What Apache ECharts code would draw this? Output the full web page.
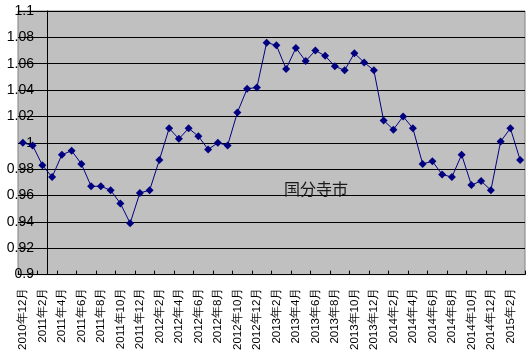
<!DOCTYPE html>
<html>
<head>
<meta charset="utf-8">
<script src="https://cdn.jsdelivr.net/npm/echarts@6/dist/echarts.min.js"></script>
<style>
  html, body { margin: 0; padding: 0; background: #fff; }
  #chart { width: 532px; height: 353px; }
</style>
</head>
<body>
<div id="chart"></div>
<script>
// 月次データ 2010年12月〜2015年3月
const months = [
  '2010年12月', '2011年1月', '2011年2月', '2011年3月', '2011年4月', '2011年5月',
  '2011年6月', '2011年7月', '2011年8月', '2011年9月', '2011年10月', '2011年11月',
  '2011年12月', '2012年1月', '2012年2月', '2012年3月', '2012年4月', '2012年5月',
  '2012年6月', '2012年7月', '2012年8月', '2012年9月', '2012年10月', '2012年11月',
  '2012年12月', '2013年1月', '2013年2月', '2013年3月', '2013年4月', '2013年5月',
  '2013年6月', '2013年7月', '2013年8月', '2013年9月', '2013年10月', '2013年11月',
  '2013年12月', '2014年1月', '2014年2月', '2014年3月', '2014年4月', '2014年5月',
  '2014年6月', '2014年7月', '2014年8月', '2014年9月', '2014年10月', '2014年11月',
  '2014年12月', '2015年1月', '2015年2月', '2015年3月'
];

const values = [
  1.000, 0.998, 0.983, 0.974, 0.991, 0.994, 0.984, 0.967, 0.967, 0.964,
  0.954, 0.939, 0.962, 0.964, 0.987, 1.011, 1.003, 1.011, 1.005, 0.995,
  1.000, 0.998, 1.023, 1.041, 1.042, 1.076, 1.074, 1.056, 1.072, 1.062,
  1.070, 1.066, 1.058, 1.055, 1.068, 1.061, 1.055, 1.017, 1.010, 1.020,
  1.011, 0.984, 0.986, 0.976, 0.974, 0.991, 0.968, 0.971, 0.964, 1.001,
  1.011, 0.987
];

const cityName = '国分寺市';

const chart = echarts.init(document.getElementById('chart'));

const option = {
  backgroundColor: '#ffffff',
  animation: false,
  title: {
    text: cityName,
    left: 279,
    top: 176,
    textStyle: {
      fontFamily: 'Noto Sans CJK JP',
      fontSize: 16,
      fontWeight: 'normal',
      color: '#1a1a1a'
    }
  },
  grid: {
    left: 18,
    right: 7,
    top: 11,
    bottom: 75,
    show: true,
    backgroundColor: '#c0c0c0',
    borderColor: '#808080',
    borderWidth: 1
  },
  xAxis: {
    type: 'category',
    data: months,
    boundaryGap: true,
    axisLine: { lineStyle: { color: '#000', width: 1 } },
    axisTick: {
      show: true,
      inside: true,
      length: 4,
      interval: 1,
      lineStyle: { color: '#000' }
    },
    axisLabel: {
      interval: 1,
      rotate: 90,
      margin: 13,
      fontFamily: 'Liberation Sans',
      fontSize: 11.5,
      color: '#000'
    },
    splitLine: { show: false }
  },
  yAxis: {
    type: 'value',
    min: 0.9,
    max: 1.1,
    interval: 0.02,
    offset: -29,
    axisLine: { show: true, lineStyle: { color: '#000', width: 1 } },
    axisTick: { show: false },
    axisLabel: {
      margin: 13,
      fontFamily: 'Liberation Sans',
      fontSize: 14,
      color: '#000',
      formatter: function (v) { return String(+v.toFixed(2)); }
    },
    splitLine: { show: true, lineStyle: { color: '#000', width: 1 } }
  },
  series: [
    {
      type: 'line',
      data: values,
      symbol: 'diamond',
      symbolSize: 8,
      showSymbol: true,
      showAllSymbol: true,
      lineStyle: { color: '#000080', width: 1 },
      itemStyle: { color: '#000080' }
    }
  ]
};

chart.setOption(option);
</script>
</body>
</html>
